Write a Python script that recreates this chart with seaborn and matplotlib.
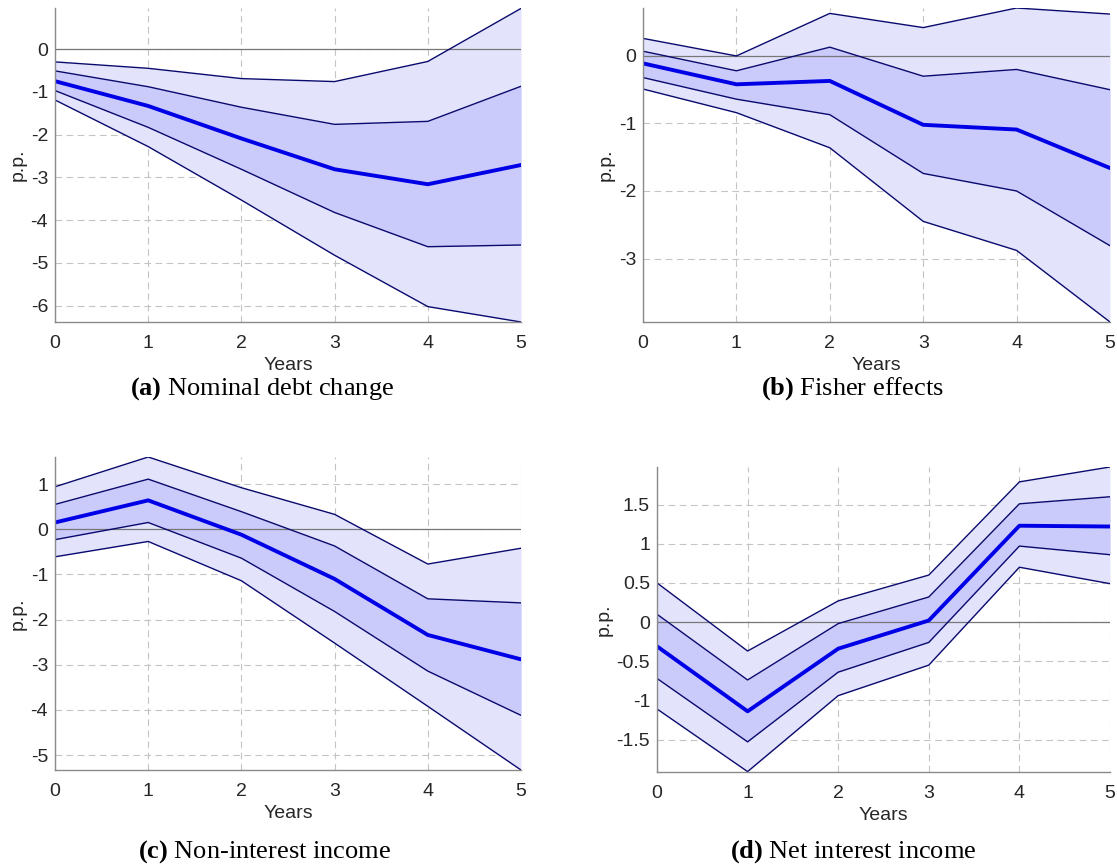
import numpy as np
import pandas as pd
import seaborn as sns
import matplotlib.pyplot as plt

sns.set_style("white")
plt.rcParams['font.family'] = ['Liberation Sans', 'DejaVu Sans']
plt.rcParams['axes.unicode_minus'] = False
plt.rcParams['mathtext.fontset'] = 'custom'
plt.rcParams['mathtext.rm'] = 'Liberation Serif'
plt.rcParams['mathtext.bf'] = 'Liberation Serif:bold'

years = [0, 1, 2, 3, 4, 5]

# (a) Nominal debt change
a_lo90 = [-1.19, -2.28, -3.53, -4.82, -6.02, -6.38]
a_lo68 = [-0.97, -1.83, -2.81, -3.82, -4.62, -4.58]
a_med = [-0.75, -1.33, -2.09, -2.81, -3.16, -2.71]
a_hi68 = [-0.51, -0.88, -1.36, -1.76, -1.69, -0.87]
a_hi90 = [-0.30, -0.45, -0.69, -0.76, -0.29, 0.95]

# (b) Fisher effects
b_lo90 = [-0.49, -0.84, -1.36, -2.45, -2.88, -3.94]
b_lo68 = [-0.32, -0.64, -0.87, -1.74, -2.00, -2.81]
b_med = [-0.11, -0.42, -0.37, -1.02, -1.09, -1.66]
b_hi68 = [0.07, -0.22, 0.13, -0.30, -0.20, -0.50]
b_hi90 = [0.26, 0.00, 0.63, 0.42, 0.71, 0.62]

# (c) Non-interest income
c_lo90 = [-0.61, -0.27, -1.14, -2.52, -3.92, -5.33]
c_lo68 = [-0.23, 0.15, -0.64, -1.82, -3.14, -4.12]
c_med = [0.15, 0.64, -0.12, -1.10, -2.34, -2.88]
c_hi68 = [0.55, 1.11, 0.39, -0.37, -1.54, -1.63]
c_hi90 = [0.94, 1.60, 0.92, 0.33, -0.77, -0.42]

# (d) Net interest income
d_lo90 = [-1.11, -1.91, -0.94, -0.55, 0.70, 0.49]
d_lo68 = [-0.72, -1.53, -0.64, -0.26, 0.97, 0.86]
d_med = [-0.31, -1.14, -0.34, 0.02, 1.23, 1.22]
d_hi68 = [0.10, -0.74, -0.02, 0.32, 1.51, 1.60]
d_hi90 = [0.50, -0.37, 0.27, 0.60, 1.79, 1.98]

captions = ["(a)", "(b)", "(c)", "(d)"]
titles = ["Nominal debt change", "Fisher effects", "Non-interest income", "Net interest income"]

panels = [
    (a_lo90, a_lo68, a_med, a_hi68, a_hi90, (-6.38, 0.96), [-6, -5, -4, -3, -2, -1, 0]),
    (b_lo90, b_lo68, b_med, b_hi68, b_hi90, (-3.94, 0.71), [-3, -2, -1, 0]),
    (c_lo90, c_lo68, c_med, c_hi68, c_hi90, (-5.33, 1.60), [-5, -4, -3, -2, -1, 0, 1]),
    (d_lo90, d_lo68, d_med, d_hi68, d_hi90, (-1.915, 1.98), [-1.5, -1, -0.5, 0, 0.5, 1, 1.5]),
]

# axes boxes in pixels: left, top, right, bottom
W, H = 1117, 866
boxes = [(55, 8, 521, 322), (643, 8, 1110, 322), (55, 457, 521, 770), (657, 467, 1110, 772)]
cap_pos = [(262, 389), (852, 389), (265, 852), (853, 852)]

fig = plt.figure(figsize=(W / 100, H / 100), dpi=100)

outer_col = '#e3e3fc'
inner_col = '#cacafb'
edge_col = '#0a0a6e'
med_col = '#0000e6'
axis_col = '#8a8a8a'

for i, (lo90, lo68, med, hi68, hi90, ylim, yt) in enumerate(panels):
    l, t, r, b = boxes[i]
    ax = fig.add_axes([l / W, 1 - b / H, (r - l) / W, (b - t) / H])
    df = pd.DataFrame({'Years': years, 'lo90': lo90, 'lo68': lo68, 'med': med,
                       'hi68': hi68, 'hi90': hi90})
    ax.fill_between(df['Years'], df['lo90'], df['hi90'], color=outer_col, lw=0, zorder=1)
    ax.fill_between(df['Years'], df['lo68'], df['hi68'], color=inner_col, lw=0, zorder=2)
    ax.axhline(0, color='#777777', lw=0.9, zorder=3)
    for col in ['lo90', 'lo68', 'hi68', 'hi90']:
        sns.lineplot(data=df, x='Years', y=col, ax=ax, color=edge_col, lw=1.0, zorder=4)
    sns.lineplot(data=df, x='Years', y='med', ax=ax, color=med_col, lw=2.8, zorder=5)

    ax.set_xlim(0, 5)
    ax.set_ylim(*ylim)
    ax.set_xticks(years)
    ax.set_yticks(yt)
    ax.set_yticklabels([f"{v:g}" for v in yt])
    ax.grid(True, ls=(0, (6, 4)), color='#c4c4c4', lw=0.8)
    for g in ax.get_xgridlines() + ax.get_ygridlines():
        g.set_zorder(3.5)
    sns.despine(ax=ax)
    for s in ['left', 'bottom']:
        ax.spines[s].set_color(axis_col)
        ax.spines[s].set_linewidth(1.0)
        ax.spines[s].set_zorder(6)
    ax.tick_params(length=0, labelsize=14, colors='#262626')
    ax.tick_params(axis='x', pad=9)
    ax.tick_params(axis='y', pad=5)
    ax.set_xlabel('Years', fontsize=14, color='#262626', labelpad=4)
    ax.set_ylabel('p.p.', fontsize=14, color='#262626', labelpad=3)

    cx, cy = cap_pos[i]
    fig.text(cx / W, 1 - cy / H, r"$\mathbf{" + captions[i] + "}$ " + titles[i],
             ha='center', va='center', fontsize=19, family='Liberation Serif', color='black')

fig.savefig('out.png', dpi=100)
